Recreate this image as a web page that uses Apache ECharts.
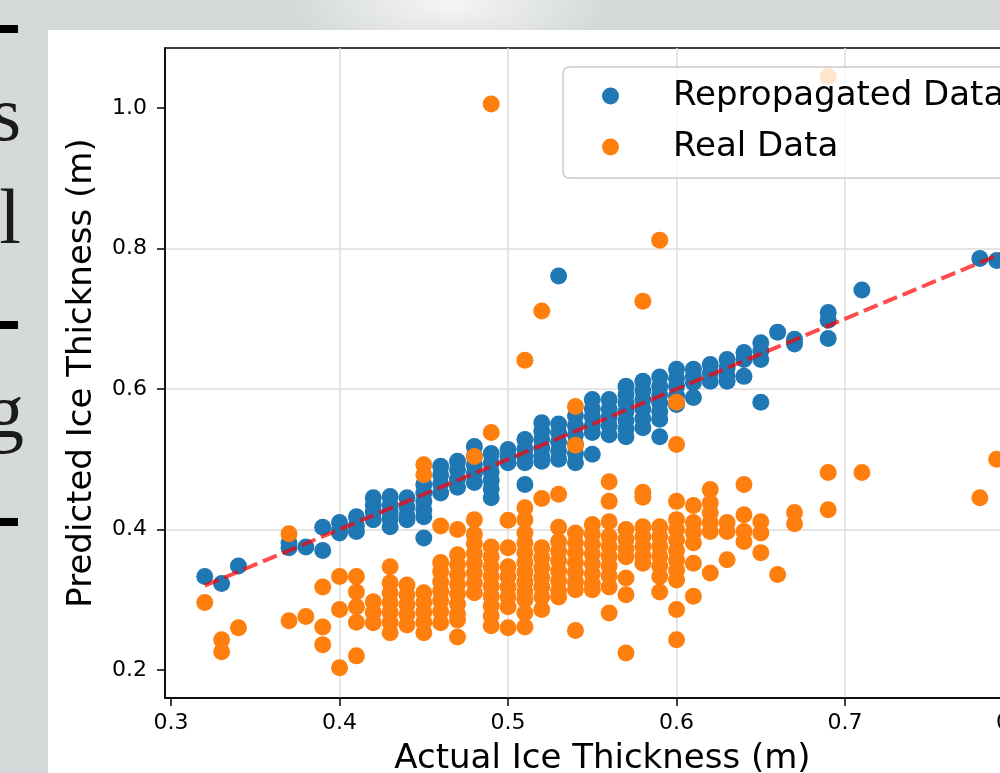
<!DOCTYPE html>
<html><head><meta charset="utf-8">
<script src="https://cdn.jsdelivr.net/npm/echarts@6/dist/echarts.min.js"></script>
<style>
html,body{margin:0;padding:0;width:1000px;height:773px;overflow:hidden;background:#d6d9d9;}
#blob{position:absolute;left:290px;top:-45px;width:320px;height:100px;background:radial-gradient(ellipse at center,rgba(246,247,247,0.95) 0%,rgba(236,238,238,0.6) 40%,rgba(214,217,217,0) 70%);}
#panel{position:absolute;left:48px;top:30px;width:952px;height:743px;background:#fff;}
#chart{position:absolute;left:0;top:0;width:1000px;height:773px;}
.glyph{position:absolute;font-family:'Liberation Serif',serif;font-size:78px;line-height:78px;color:#1a1a1a;text-align:right;white-space:nowrap;}
.bar{position:absolute;left:0;width:18px;height:8px;background:#000;}
</style></head>
<body>
<div id="blob"></div>
<div class="bar" style="top:25px"></div>
<div class="glyph" style="right:979px;top:75px">s</div>
<div class="glyph" style="right:979px;top:178px">l</div>
<div class="bar" style="top:321px"></div>
<div class="glyph" style="right:976px;top:372px">g</div>
<div class="bar" style="top:518px"></div>
<div id="panel"></div>
<div id="chart"></div>
<script>
const xTicks = [0.3, 0.4, 0.5, 0.6, 0.7, 0.8];
const yTicks = [0.2, 0.4, 0.6, 0.8, 1.0];
const xRange = [0.2964, 0.8157];
const yRange = [0.16, 1.0856];
const seriesNames = ['Repropagated Data', 'Real Data'];
const xTitle = 'Actual Ice Thickness (m)';
const yTitle = 'Predicted Ice Thickness (m)';
const refLine = [[0.32, 0.32], [0.80, 0.80]];

const repropagated = [
 [0.32,0.333],[0.33,0.323],[0.34,0.348],
 [0.37,0.381],[0.37,0.374],[0.38,0.375],[0.39,0.403],[0.39,0.370],
 [0.40,0.410],[0.40,0.400],[0.40,0.395],
 [0.41,0.418],[0.41,0.405],[0.41,0.397],
 [0.42,0.445],[0.42,0.435],[0.42,0.425],[0.42,0.414],
 [0.43,0.447],[0.43,0.435],[0.43,0.425],[0.43,0.415],[0.43,0.404],
 [0.44,0.445],[0.44,0.432],[0.44,0.420],[0.44,0.414],
 [0.45,0.464],[0.45,0.452],[0.45,0.440],[0.45,0.428],[0.45,0.418],[0.45,0.388],
 [0.46,0.490],[0.46,0.478],[0.46,0.465],[0.46,0.452],
 [0.47,0.497],[0.47,0.485],[0.47,0.472],[0.47,0.460],
 [0.48,0.518],[0.48,0.505],[0.48,0.492],[0.48,0.480],[0.48,0.467],
 [0.49,0.508],[0.49,0.495],[0.49,0.482],[0.49,0.470],[0.49,0.458],[0.49,0.445],
 [0.50,0.514],[0.50,0.503],[0.50,0.495],
 [0.51,0.528],[0.51,0.515],[0.51,0.505],[0.51,0.495],[0.51,0.464],
 [0.52,0.552],[0.52,0.540],[0.52,0.528],[0.52,0.516],[0.52,0.505],[0.52,0.497],
 [0.53,0.761],[0.53,0.550],[0.53,0.538],[0.53,0.525],[0.53,0.512],[0.53,0.500],
 [0.54,0.562],[0.54,0.548],[0.54,0.535],[0.54,0.522],[0.54,0.508],[0.54,0.495],
 [0.55,0.585],[0.55,0.572],[0.55,0.560],[0.55,0.548],[0.55,0.538],[0.55,0.507],
 [0.56,0.585],[0.56,0.572],[0.56,0.560],[0.56,0.548],[0.56,0.535],
 [0.57,0.604],[0.57,0.592],[0.57,0.580],[0.57,0.568],[0.57,0.555],[0.57,0.543],[0.57,0.532],
 [0.58,0.611],[0.58,0.598],[0.58,0.585],[0.58,0.572],[0.58,0.558],[0.58,0.545],
 [0.59,0.617],[0.59,0.604],[0.59,0.592],[0.59,0.580],[0.59,0.568],[0.59,0.557],[0.59,0.532],
 [0.60,0.628],[0.60,0.615],[0.60,0.604],[0.60,0.590],[0.60,0.578],
 [0.61,0.628],[0.61,0.618],[0.61,0.609],[0.61,0.588],
 [0.62,0.635],[0.62,0.623],[0.62,0.611],
 [0.63,0.642],[0.63,0.630],[0.63,0.618],[0.63,0.611],
 [0.64,0.652],[0.64,0.642],[0.64,0.618],
 [0.65,0.666],[0.65,0.654],[0.65,0.642],[0.65,0.581],
 [0.66,0.681],[0.67,0.671],[0.67,0.664],
 [0.69,0.709],[0.69,0.698],[0.69,0.672],
 [0.71,0.741],[0.78,0.786],[0.79,0.783]
];

const realData = [
 [0.32,0.296],[0.33,0.243],[0.33,0.226],[0.34,0.260],
 [0.37,0.394],[0.37,0.270],[0.38,0.276],
 [0.39,0.318],[0.39,0.261],[0.39,0.236],
 [0.40,0.333],[0.40,0.286],[0.40,0.203],
 [0.41,0.333],[0.41,0.311],[0.41,0.290],[0.41,0.268],[0.41,0.220],
 [0.42,0.297],[0.42,0.282],[0.42,0.267],
 [0.43,0.347],[0.43,0.324],[0.43,0.310],[0.43,0.296],[0.43,0.282],[0.43,0.268],[0.43,0.253],
 [0.44,0.321],[0.44,0.307],[0.44,0.293],[0.44,0.279],[0.44,0.264],
 [0.45,0.492],[0.45,0.478],[0.45,0.310],[0.45,0.296],[0.45,0.282],[0.45,0.268],[0.45,0.253],
 [0.46,0.405],[0.46,0.353],[0.46,0.340],[0.46,0.326],[0.46,0.312],[0.46,0.298],[0.46,0.283],[0.46,0.267],
 [0.47,0.400],[0.47,0.364],[0.47,0.350],[0.47,0.336],[0.47,0.322],[0.47,0.308],[0.47,0.294],[0.47,0.280],[0.47,0.271],[0.47,0.247],
 [0.48,0.504],[0.48,0.414],[0.48,0.393],[0.48,0.380],[0.48,0.366],[0.48,0.352],[0.48,0.338],[0.48,0.324],[0.48,0.310],
 [0.49,1.006],[0.49,0.538],[0.49,0.375],[0.49,0.361],[0.49,0.347],[0.49,0.333],[0.49,0.319],[0.49,0.305],[0.49,0.291],[0.49,0.277],[0.49,0.263],
 [0.50,0.413],[0.50,0.374],[0.50,0.347],[0.50,0.333],[0.50,0.318],[0.50,0.304],[0.50,0.290],[0.50,0.260],
 [0.51,0.641],[0.51,0.431],[0.51,0.414],[0.51,0.395],[0.51,0.381],[0.51,0.367],[0.51,0.353],[0.51,0.339],[0.51,0.325],[0.51,0.311],[0.51,0.300],[0.51,0.281],[0.51,0.261],
 [0.52,0.711],[0.52,0.444],[0.52,0.374],[0.52,0.360],[0.52,0.346],[0.52,0.332],[0.52,0.318],[0.52,0.304],[0.52,0.286],
 [0.53,0.450],[0.53,0.403],[0.53,0.383],[0.53,0.369],[0.53,0.355],[0.53,0.341],[0.53,0.327],[0.53,0.313],[0.53,0.304],
 [0.54,0.575],[0.54,0.520],[0.54,0.395],[0.54,0.381],[0.54,0.367],[0.54,0.353],[0.54,0.339],[0.54,0.325],[0.54,0.314],[0.54,0.256],
 [0.55,0.407],[0.55,0.393],[0.55,0.379],[0.55,0.365],[0.55,0.351],[0.55,0.337],[0.55,0.323],[0.55,0.314],
 [0.56,0.468],[0.56,0.440],[0.56,0.411],[0.56,0.390],[0.56,0.376],[0.56,0.362],[0.56,0.348],[0.56,0.334],[0.56,0.318],[0.56,0.281],
 [0.57,0.400],[0.57,0.386],[0.57,0.372],[0.57,0.361],[0.57,0.331],[0.57,0.307],[0.57,0.224],
 [0.58,0.725],[0.58,0.453],[0.58,0.446],[0.58,0.404],[0.58,0.390],[0.58,0.376],[0.58,0.363],[0.58,0.352],
 [0.59,0.812],[0.59,0.404],[0.59,0.390],[0.59,0.376],[0.59,0.362],[0.59,0.348],[0.59,0.333],[0.59,0.311],
 [0.60,0.581],[0.60,0.521],[0.60,0.440],[0.60,0.414],[0.60,0.400],[0.60,0.385],[0.60,0.370],[0.60,0.356],[0.60,0.342],[0.60,0.328],[0.60,0.286],[0.60,0.243],
 [0.61,0.434],[0.61,0.410],[0.61,0.396],[0.61,0.381],[0.61,0.352],[0.61,0.305],
 [0.62,0.457],[0.62,0.438],[0.62,0.424],[0.62,0.410],[0.62,0.397],[0.62,0.338],
 [0.63,0.410],[0.63,0.397],[0.63,0.357],
 [0.64,0.464],[0.64,0.421],[0.64,0.397],[0.64,0.383],
 [0.65,0.411],[0.65,0.395],[0.65,0.367],
 [0.66,0.336],[0.67,0.424],[0.67,0.408],
 [0.69,1.045],[0.69,0.481],[0.69,0.428],
 [0.71,0.481],[0.78,0.445],[0.79,0.500]
];

const chart = echarts.init(document.getElementById('chart'), null, {renderer: 'canvas'});
const fmt = v => Number(v).toFixed(1);
const option = {
  animation: false,
  backgroundColor: 'transparent',
  textStyle: {fontFamily: 'DejaVu Sans'},
  grid: {left: 165, top: 48, width: 875, height: 650, containLabel: false, outerBoundsMode: 'none',
         show: true, borderColor: '#000', borderWidth: 1.5, backgroundColor: 'transparent'},
  legend: {
    orient: 'vertical', left: 563, top: 67, z: 10,
    padding: [12, 60, 14, 39], itemGap: 17, itemWidth: 17, itemHeight: 17,
    backgroundColor: 'rgba(255,255,255,0.8)', borderColor: '#cccccc', borderWidth: 1.5, borderRadius: 6,
    data: seriesNames.map(n => ({name: n, icon: 'circle'})),
    formatter: n => '{g| }' + n,
    textStyle: {fontSize: 34, color: '#000', fontFamily: 'DejaVu Sans', rich: {g: {width: 49, fontSize: 34}}}
  },
  xAxis: {
    type: 'value', min: xRange[0], max: xRange[1],
    name: xTitle, nameLocation: 'middle', nameGap: 44,
    nameTextStyle: {fontSize: 34, color: '#000', fontFamily: 'DejaVu Sans'},
    axisLine: {onZero: false, lineStyle: {color: '#000', width: 1.5}},
    axisTick: {show: true, length: 8, customValues: xTicks, lineStyle: {color: '#000', width: 1.5}},
    axisLabel: {customValues: xTicks, formatter: fmt, fontSize: 22, color: '#000', margin: 14, fontFamily: 'DejaVu Sans'},
    splitLine: {show: true, showMinLine: false, showMaxLine: false, lineStyle: {color: '#dcdcdc', width: 1.5}}
  },
  yAxis: {
    type: 'value', min: yRange[0], max: yRange[1],
    name: yTitle, nameLocation: 'middle', nameGap: 66,
    nameTextStyle: {fontSize: 34, color: '#000', fontFamily: 'DejaVu Sans'},
    axisLine: {show: true, onZero: false, lineStyle: {color: '#000', width: 1.5}},
    axisTick: {show: true, length: 8, customValues: yTicks, lineStyle: {color: '#000', width: 1.5}},
    axisLabel: {customValues: yTicks, formatter: fmt, fontSize: 22, color: '#000', margin: 18, fontFamily: 'DejaVu Sans'},
    splitLine: {show: true, showMinLine: false, showMaxLine: false, lineStyle: {color: '#dcdcdc', width: 1.5}}
  },
  series: [
    {type: 'scatter', name: seriesNames[0], data: repropagated, symbolSize: 17, z: 2,
     itemStyle: {color: '#1f77b4', opacity: 1}, emphasis: {disabled: true}},
    {type: 'scatter', name: seriesNames[1], data: realData, symbolSize: 17, z: 3,
     itemStyle: {color: '#ff7f0e', opacity: 1}, emphasis: {disabled: true}},
    {type: 'line', data: refLine, symbol: 'none', z: 4, silent: true,
     lineStyle: {color: 'rgba(255,0,0,0.7)', width: 4, type: [15, 6]}}
  ]
};
chart.setOption(option);
</script>
</body></html>
